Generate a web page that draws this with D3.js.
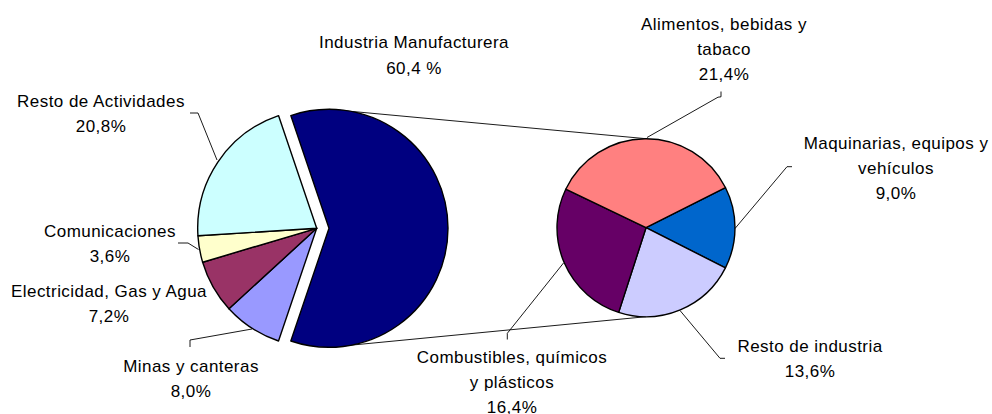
<!DOCTYPE html>
<html>
<head>
<meta charset="utf-8">
<script src="https://cdn.jsdelivr.net/npm/d3@7"></script>
<style>
  html, body { margin: 0; padding: 0; background: #ffffff; }
  svg { display: block; }
  text { font-family: "Liberation Sans", Arial, sans-serif; font-size: 17px; fill: #000; letter-spacing: 0.45px; }
</style>
</head>
<body>
<svg id="chart" width="992" height="414"></svg>
<script>
// ---- data ----
const mainCategories = ["Industria Manufacturera", "Minas y canteras", "Electricidad, Gas y Agua", "Comunicaciones", "Resto de Actividades"];
const mainValues = [60.4, 8.0, 7.2, 3.6, 20.8];
const mainPctLabels = ["60,4 %", "8,0%", "7,2%", "3,6%", "20,8%"];

const subCategories = ["Maquinarias, equipos y vehículos", "Resto de industria", "Combustibles, químicos y plásticos", "Alimentos, bebidas y tabaco"];
const subValues = [9.0, 13.6, 16.4, 21.4];
const subPctLabels = ["9,0%", "13,6%", "16,4%", "21,4%"];

// ---- styles / layout ----
const mainColors = ["#000080", "#9999FF", "#993366", "#FFFFCC", "#CCFFFF"];
const subColors = ["#0066CC", "#CCCCFF", "#660066", "#FF8080"];

const svg = d3.select("#chart");

const c1 = { x: 316.7, y: 228.3, r: 119 };
const explode = 12.3;
const c2 = { x: 646, y: 227.7, r: 89 };

const total = d3.sum(mainValues);
const subTotal = d3.sum(subValues);

const start1 = Math.PI / 2 - (mainValues[0] / total) * Math.PI;
const pie1 = d3.pie().sort(null).value(d => d).startAngle(start1).endAngle(start1 + 2 * Math.PI);
const start2 = Math.PI / 2 - (subValues[0] / subTotal) * Math.PI;
const pie2 = d3.pie().sort(null).value(d => d).startAngle(start2).endAngle(start2 + 2 * Math.PI);

const arc1 = d3.arc().innerRadius(0).outerRadius(c1.r);
const arc2 = d3.arc().innerRadius(0).outerRadius(c2.r);

// connector lines between pies
const ex = c1.x + explode;
const connectors = [
  [[ex, c1.y - c1.r], [c2.x, c2.y - c2.r]],
  [[ex, c1.y + c1.r], [c2.x, c2.y + c2.r]]
];
svg.append("g").selectAll("path").data(connectors).join("path")
  .attr("d", d => d3.line()(d))
  .attr("fill", "none").attr("stroke", "#000").attr("stroke-width", 0.9);

// main pie
const g1 = svg.append("g").attr("transform", `translate(${c1.x},${c1.y})`);
g1.selectAll("path").data(pie1(mainValues)).join("path")
  .attr("transform", (d, i) => {
    if (i !== 0) return null;
    const mid = (d.startAngle + d.endAngle) / 2;
    return `translate(${explode * Math.sin(mid)},${-explode * Math.cos(mid)})`;
  })
  .attr("d", arc1)
  .attr("fill", (d, i) => mainColors[i])
  .attr("stroke", "#000").attr("stroke-width", 1.4).attr("stroke-linejoin", "round");

// secondary pie
const g2 = svg.append("g").attr("transform", `translate(${c2.x},${c2.y})`);
g2.selectAll("path").data(pie2(subValues)).join("path")
  .attr("d", arc2)
  .attr("fill", (d, i) => subColors[i])
  .attr("stroke", "#000").attr("stroke-width", 1.4).attr("stroke-linejoin", "round");

// labels: lines of text, center x, first baseline, line height
const lh = 25.3;
const mainLabelLayout = [
  { lines: ["Industria Manufacturera"], x: 414, y: 48.3 },
  { lines: ["Minas y canteras"], x: 191, y: 371.5 },
  { lines: ["Electricidad, Gas y Agua"], x: 109, y: 296.5 },
  { lines: ["Comunicaciones"], x: 110, y: 236.5 },
  { lines: ["Resto de Actividades"], x: 101, y: 107 }
];
const subLabelLayout = [
  { lines: ["Maquinarias, equipos y", "vehículos"], x: 896, y: 148.8 },
  { lines: ["Resto de industria"], x: 810, y: 351.5 },
  { lines: ["Combustibles, químicos", "y plásticos"], x: 512, y: 362.5 },
  { lines: ["Alimentos, bebidas y", "tabaco"], x: 724, y: 29.5 }
];

function drawLabels(layout, pcts) {
  layout.forEach((L, i) => {
    const t = svg.append("text").attr("text-anchor", "middle");
    L.lines.concat([pcts[i]]).forEach((s, k) => {
      t.append("tspan").attr("x", L.x).attr("y", L.y + k * lh).text(s);
    });
  });
}
drawLabels(mainLabelLayout, mainPctLabels);
drawLabels(subLabelLayout, subPctLabels);

// leader lines
const leaders = [
  [[190, 113], [198, 113], [217, 160]],
  [[178, 243], [188, 243], [198.5, 249.5]],
  [[190, 347], [190, 340], [252, 329]],
  [[721, 91.5], [721, 96.8], [718, 97.2], [647, 137.5]],
  [[792, 166.7], [787, 166.7], [735, 228.5]],
  [[725, 358.3], [720, 358.3], [680, 310.5]],
  [[507.3, 339.5], [507.3, 333.3], [563.5, 263]]
];
svg.append("g").selectAll("path").data(leaders).join("path")
  .attr("d", d => d3.line()(d))
  .attr("fill", "none").attr("stroke", "#000").attr("stroke-width", 0.9);
</script>
</body>
</html>
